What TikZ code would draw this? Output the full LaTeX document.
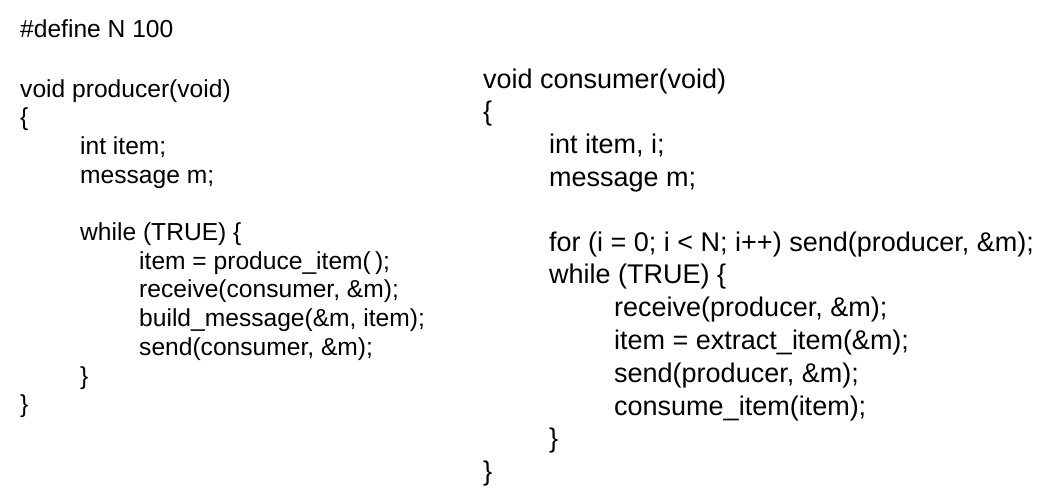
\documentclass[tikz,border=0pt]{standalone}
\usepackage{fontspec}
\setmainfont{Liberation Sans}
\usetikzlibrary{positioning}

\begin{document}
\begin{tikzpicture}
  [x=1pt,y=-1pt,
   prod/.style={anchor=base west,inner sep=0pt,
                font=\fontsize{24.6}{29}\selectfont},
   cons/.style={anchor=base west,inner sep=0pt,
                font=\fontsize{27}{33}\selectfont}]
  \useasboundingbox (0,0) rectangle (1058,499);

  % producer side
  \node[prod] (define)    at (20,37)    {\#define N 100};
  \node[prod] (prodhead)  at (20,97)    {void producer(void)};
  \node[prod] (prodopen)  at (20,125.7) {\{};
  \node[prod] (proditem)  at (80,154.4) {int item;};
  \node[prod] (prodmsg)   at (80,183.1) {message m;};
  \node[prod] (prodwhile) at (80,240.5) {while (TRUE) \{};
  \node[prod] (prodmake)  at (139,269.2) {item = produce\_item(\,);};
  \node[prod] (prodrecv)  at (139,297.9) {receive(consumer, \&m);};
  \node[prod] (prodbuild) at (139,326.6) {build\_message(\&m, item);};
  \node[prod] (prodsend)  at (139,355.3) {send(consumer, \&m);};
  \node[prod] (prodwend)  at (80,384)   {\}};
  \node[prod] (prodclose) at (20,412.7) {\}};

  % consumer side
  \node[cons] (conshead)    at (483,88)    {void consumer(void)};
  \node[cons] (consopen)    at (483,120.7) {\{};
  \node[cons] (consitem)    at (549,153.4) {int item, i;};
  \node[cons] (consmsg)     at (549,186.1) {message m;};
  \node[cons] (consfor)     at (549,251.5) {for (i = 0; i < N; i++) send(producer, \&m);};
  \node[cons] (conswhile)   at (549,283.8) {while (TRUE) \{};
  \node[cons] (consrecv)    at (614,316.9) {receive(producer, \&m);};
  \node[cons] (consextract) at (614,349.6) {item = extract\_item(\&m);};
  \node[cons] (conssend)    at (614,382.3) {send(producer, \&m);};
  \node[cons] (consuse)     at (614,415)   {consume\_item(item);};
  \node[cons] (conswend)    at (549,447.7) {\}};
  \node[cons] (consclose)   at (483,480.4) {\}};
\end{tikzpicture}
\end{document}
